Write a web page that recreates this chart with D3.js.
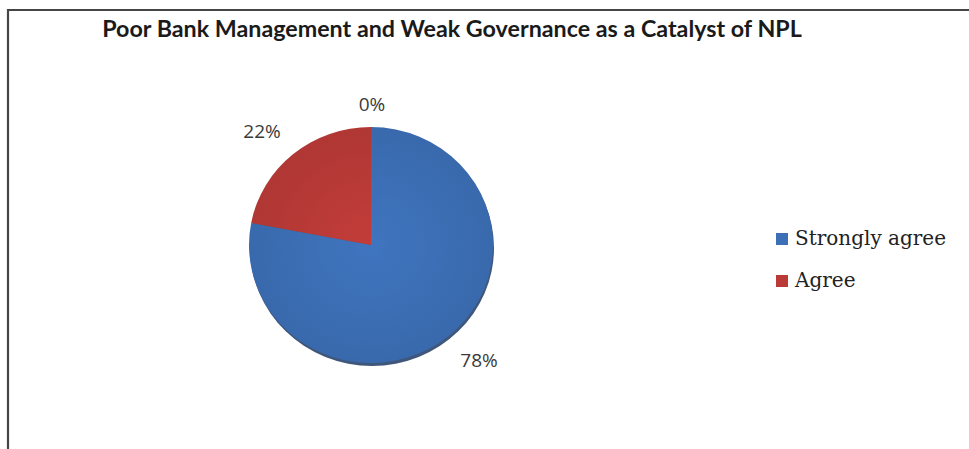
<!DOCTYPE html>
<html>
<head>
<meta charset="utf-8">
<script src="https://cdn.jsdelivr.net/npm/d3@7"></script>
<style>
  html, body { margin: 0; padding: 0; background: #ffffff; }
  svg { display: block; }
</style>
</head>
<body>
<svg id="chart" width="969" height="449"></svg>
<script>
// ---- data ----
const chartTitle = "Poor Bank Management and Weak Governance as a Catalyst of NPL";
const categories = ["Strongly agree", "Agree", ""];
const values = [78, 22, 0];
const pctLabels = ["78%", "22%", "0%"];
const colors = ["#3c6fb5", "#b93a37", "#7f9a48"];

const svg = d3.select("#chart");
const W = 969, H = 449;

// frame (only top and left edges visible)
svg.append("path")
  .attr("d", "M8,449 L8,10 L969,10")
  .attr("fill", "none").attr("stroke", "#454545").attr("stroke-width", 2.2);

// title
const title = svg.append("text")
  .attr("x", 452).attr("y", 37)
  .attr("text-anchor", "middle")
  .attr("font-family", "Lato, 'Open Sans', sans-serif")
  .attr("font-weight", "bold")
  .attr("font-size", 22)
  .attr("fill", "#1a1a1a")
  .text(chartTitle);
{
  const w = title.node().getComputedTextLength();
  title.attr("font-size", 22 * 700 / w);
}

// gradients
const defs = svg.append("defs");
colors.forEach((c, i) => {
  const g = defs.append("radialGradient").attr("id", "g" + i)
    .attr("gradientUnits", "userSpaceOnUse")
    .attr("cx", 0).attr("cy", 0).attr("r", 125);
  g.append("stop").attr("offset", "0%").attr("stop-color", d3.color(c).brighter(0.15));
  g.append("stop").attr("offset", "100%").attr("stop-color", d3.color(c).darker(0.15));
});

const cx = 371, cy = 245, rx = 122, ry = 118;
const pie = d3.pie().sort(null).value(d => d.v);
const data = pie(values.map((v, i) => ({ v, i })));
const arc = d3.arc().innerRadius(0).outerRadius(rx);

const gPie = svg.append("g")
  .attr("transform", `translate(${cx},${cy}) scale(1,${ry / rx})`);

// shadow
gPie.append("ellipse")
  .attr("cx", 1).attr("cy", 3).attr("rx", rx).attr("ry", rx)
  .attr("fill", "#1d3a63").attr("opacity", 0.85);

gPie.selectAll("path.slice")
  .data(data.filter(d => d.data.v > 0))
  .join("path")
  .attr("class", "slice")
  .attr("d", arc)
  .attr("fill", d => `url(#g${d.data.i})`);

// percentage labels
const labelPos = [[479, 367], [262, 138], [372, 111]];
svg.selectAll("text.pct")
  .data(data)
  .join("text")
  .attr("class", "pct")
  .attr("x", d => labelPos[d.index][0])
  .attr("y", d => labelPos[d.index][1])
  .attr("text-anchor", "middle")
  .attr("font-family", "'Open Sans', 'Noto Sans', sans-serif")
  .attr("font-size", 19)
  .attr("fill", "#3a3a3a")
  .text(d => pctLabels[d.index]);

// legend
const legendItems = categories.map((c, i) => ({ c, i })).filter(d => d.c !== "");
const leg = svg.append("g").attr("transform", "translate(776,233)");
const li = leg.selectAll("g").data(legendItems).join("g")
  .attr("transform", (d, k) => `translate(0,${k * 42})`);
li.append("rect").attr("width", 12).attr("height", 12)
  .attr("fill", d => colors[d.i]);
li.append("text").attr("x", 19).attr("y", 12)
  .attr("font-family", "'DejaVu Serif', 'Liberation Serif', serif")
  .attr("font-size", 20)
  .attr("fill", "#222")
  .text(d => d.c);
</script>
</body>
</html>
